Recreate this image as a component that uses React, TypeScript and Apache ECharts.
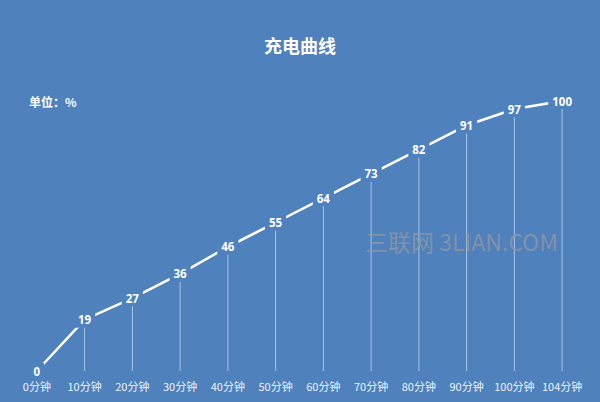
import React, { useEffect, useRef } from "react";
import * as echarts from "echarts";

const categories = ["0分钟", "10分钟", "20分钟", "30分钟", "40分钟", "50分钟", "60分钟", "70分钟", "80分钟", "90分钟", "100分钟", "104分钟"];
const chargeValues = [0, 19, 27, 36, 46, 55, 64, 73, 82, 91, 97, 100];

const BG = "#4f81bd";

export default function App() {
  const ref = useRef<HTMLDivElement>(null);
  useEffect(() => {
    const chart = echarts.init(ref.current!, null, { renderer: "svg" });
    chart.setOption({
      animation: false,
      backgroundColor: BG,
      title: {
        text: "充电曲线",
        left: "center",
        top: 31,
        textStyle: { color: "#ffffff", fontSize: 18, fontWeight: "bold", fontFamily: "Noto Sans CJK SC" },
      },
      graphic: [
        {
          type: "text",
          left: 29,
          top: 95,
          style: { text: "单位：%", fill: "#ffffff", fontSize: 12, fontWeight: "bold", fontFamily: "Noto Sans CJK SC" },
        },
        {
          type: "text",
          left: 365,
          top: 229,
          z: 100,
          style: { text: "三联网 3LIAN.COM", fill: "rgba(140,150,165,0.85)", fontSize: 23, fontFamily: "Noto Sans CJK SC" },
        },
      ],
      grid: { left: 13, right: 14, top: 101, bottom: 31 },
      xAxis: {
        type: "category",
        data: categories,
        boundaryGap: true,
        axisLine: { show: false },
        axisTick: { show: false },
        axisLabel: { color: "#eef3fa", fontSize: 11, margin: 9, interval: 0, fontFamily: "Noto Sans CJK SC" },
      },
      yAxis: { type: "value", min: 0, max: 100, show: false },
      series: [
        {
          type: "bar",
          data: chargeValues,
          barWidth: 1,
          itemStyle: { color: "#a9c5ec" },
          z: 1,
          silent: true,
        },
        {
          type: "line",
          data: chargeValues,
          z: 5,
          symbol: "circle",
          symbolSize: 1,
          itemStyle: { color: "#ffffff" },
          lineStyle: { color: "#ffffff", width: 2.5 },
          label: {
            show: true,
            position: "inside",
            color: "#ffffff",
            fontSize: 11.5,
            fontWeight: "bold",
            fontFamily: "Open Sans",
            backgroundColor: BG,
            padding: [2, 4],
          },
        },
      ],
    });
    return () => chart.dispose();
  }, []);
  return <div ref={ref} style={{ width: 600, height: 402, position: "absolute", left: 0, top: 0 }} />;
}
